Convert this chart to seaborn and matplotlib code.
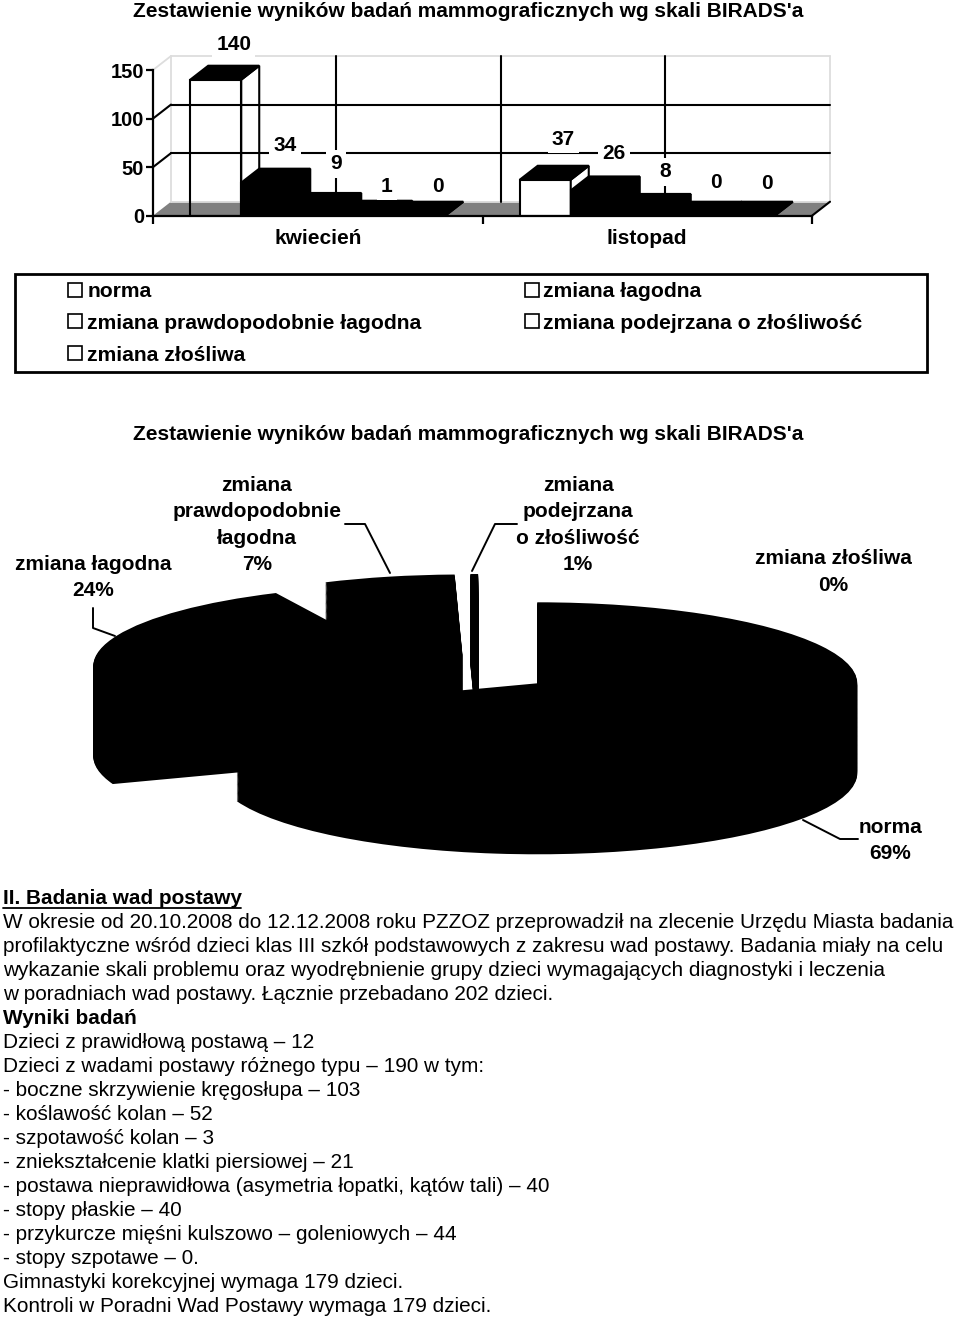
import matplotlib
matplotlib.use('Agg')
import matplotlib.pyplot as plt
from matplotlib.lines import Line2D
from matplotlib.patches import Polygon, Rectangle
import pandas as pd
import seaborn as sns

# values
months = ['kwiecień', 'listopad']
categories = ['norma', 'zmiana łagodna', 'zmiana prawdopodobnie łagodna',
              'zmiana podejrzana o złośliwość', 'zmiana złośliwa']
april = [140, 34, 9, 1, 0]
november = [37, 26, 8, 0, 0]
y_ticks = [0, 50, 100, 150]

pie_labels = ['norma\n69%', 'zmiana łagodna\n24%', 'zmiana\nprawdopodobnie\nłagodna\n7%',
              'zmiana\npodejrzana\no złośliwość\n1%', 'zmiana złośliwa\n0%']

chart_title = "Zestawienie wyników badań mammograficznych wg skali BIRADS'a"

body_lines = [
    ('II. Badania wad postawy', 'bold'),
    ('W okresie od 20.10.2008 do 12.12.2008 roku PZZOZ przeprowadził na zlecenie Urzędu Miasta badania', 'normal'),
    ('profilaktyczne wśród dzieci klas III szkół podstawowych z zakresu wad postawy. Badania miały na celu', 'normal'),
    ('wykazanie skali problemu oraz wyodrębnienie grupy dzieci wymagających diagnostyki i leczenia', 'normal'),
    ('w poradniach wad postawy. Łącznie przebadano 202 dzieci.', 'normal'),
    ('Wyniki badań', 'bold'),
    ('Dzieci z prawidłową postawą – 12', 'normal'),
    ('Dzieci z wadami postawy różnego typu – 190 w tym:', 'normal'),
    ('- boczne skrzywienie kręgosłupa – 103', 'normal'),
    ('- koślawość kolan – 52', 'normal'),
    ('- szpotawość kolan – 3', 'normal'),
    ('- zniekształcenie klatki piersiowej – 21', 'normal'),
    ('- postawa nieprawidłowa (asymetria łopatki, kątów tali) – 40', 'normal'),
    ('- stopy płaskie – 40', 'normal'),
    ('- przykurcze mięśni kulszowo – goleniowych – 44', 'normal'),
    ('- stopy szpotawe – 0.', 'normal'),
    ('Gimnastyki korekcyjnej wymaga 179 dzieci.', 'normal'),
    ('Kontroli w Poradni Wad Postawy wymaga 179 dzieci.', 'normal'),
]

W, H = 960, 1320
CHART_SIZE = 15
BODY_SIZE = 14.98
LABEL_LIFT = [21, 23, 29, 14, 15, 26, 23, 22, 19, 18]  # px above the back edge of each bar


def px_rect(left, top, right, bottom):
    return [left / W, 1 - bottom / H, (right - left) / W, (bottom - top) / H]


sns.set_theme(style='white')
plt.rcParams['font.family'] = ['Liberation Sans', 'DejaVu Sans']
plt.rcParams['axes.edgecolor'] = 'black'
plt.rcParams['text.color'] = 'black'
plt.rcParams['xtick.color'] = 'black'
plt.rcParams['ytick.color'] = 'black'

fig = plt.figure(figsize=(9.6, 13.2), dpi=100, facecolor='white')

# ---------- 3D looking bar chart ----------
ax = fig.add_axes(px_rect(153, 70, 812, 215.7))
df = pd.DataFrame({
    'month': [m for m in months for _ in categories],
    'category': categories * 2,
    'value': april + november,
})
sns.barplot(data=df, x='month', y='value', hue='category', order=months, hue_order=categories,
            palette=['white', 'black', 'black', 'black', 'black'], width=0.774, gap=0,
            legend=False, edgecolor='black', linewidth=1.5, ax=ax)
bars = sorted(ax.patches, key=lambda p: p.get_x())

ax.set_xlim(-0.5, 1.5)
ax.set_ylim(0, 150)
ax.set_xlabel('')
ax.set_ylabel('')
ax.patch.set_visible(False)
for side in ['top', 'right']:
    ax.spines[side].set_visible(False)
for side in ['left', 'bottom']:
    ax.spines[side].set_linewidth(1.6)
    ax.spines[side].set_zorder(20)

DX = 18 / 329.5
DY = 14.4
x0, x1 = ax.get_xlim()

ax.set_yticks(y_ticks)
ax.tick_params(axis='y', length=5, width=1.6, pad=1.5, labelsize=14.5, left=True)
ax.set_xticks([-0.5, 0.5, 1.5], ['', '', ''])
ax.set_xticks([0, 1], months, minor=True)
ax.tick_params(axis='x', which='major', length=6, width=1.6, bottom=True)
ax.tick_params(axis='x', which='minor', length=0, pad=9.5, labelsize=CHART_SIZE)
for lab in ax.get_yticklabels() + ax.get_xticklabels(minor=True):
    lab.set_fontweight('bold')

# floor and walls behind the bars
ax.add_patch(Polygon([(x0, 0), (x0 + DX, DY), (x1 + DX, DY), (x1, 0)], closed=True,
                     facecolor='#808080', edgecolor='none', clip_on=False, zorder=0.5))
wall = dict(color='#dddddd', lw=1.3, clip_on=False, zorder=0.6)
ax.plot([x0 + DX, x0 + DX], [DY, 150 + DY], **wall)
ax.plot([x1 + DX, x1 + DX], [DY, 150 + DY], **wall)
ax.plot([x0 + DX, x1 + DX], [150 + DY, 150 + DY], **wall)
ax.plot([x0 + DX, x1 + DX], [DY, DY], **wall)
ax.plot([x0, x0 + DX], [150, 150 + DY], **wall)
grid = dict(color='black', lw=1.5, clip_on=False, zorder=0.7)
for v in y_ticks[1:-1]:
    ax.plot([x0 + DX, x1 + DX], [v + DY, v + DY], **grid)
    ax.plot([x0, x0 + DX], [v, v + DY], **grid)
for v in [0, 0.5, 1]:
    ax.plot([v + DX, v + DX], [DY, 150 + DY], **grid)
ax.plot([x1, x1 + DX], [0, DY], **grid)

# bars with their side and top faces, left to right so they overlap as in the picture
for i, bar in enumerate(bars):
    left, w, h = bar.get_x(), bar.get_width(), bar.get_height()
    is_white = bar.get_facecolor()[0] > 0.5
    see_through = is_white and i == 0
    face = 'none' if see_through else ('white' if is_white else 'black')
    bar.set_facecolor(face)
    bar.set_zorder(2 + i)
    ax.add_patch(Polygon([(left + w, 0), (left + w + DX, DY), (left + w + DX, h + DY), (left + w, h)],
                         closed=True, facecolor=face, edgecolor='black', lw=1.5,
                         clip_on=False, zorder=2 + i))
    ax.add_patch(Polygon([(left, h), (left + DX, h + DY), (left + w + DX, h + DY), (left + w, h)],
                         closed=True, facecolor='black', edgecolor='black', lw=1.5,
                         clip_on=False, zorder=2 + i))
    ax.annotate(f'{h:.0f}', xy=(left + w / 2 + DX, h + DY), xytext=(0, LABEL_LIFT[i] * 0.72),
                textcoords='offset points', ha='center', va='center', fontsize=15,
                fontweight='bold', color='black', annotation_clip=False, zorder=30,
                bbox=dict(facecolor='white', edgecolor='none', pad=3))

# ---------- exploded pie with depth, stacked copies of the same pie ----------
pie_ax = fig.add_axes(px_rect(63, 559.6, 895, 883.6))
pie_values = [a + b for a, b in zip(april, november)]
depth_levels = 100
depth = 90 / 81
for k in range(depth_levels + 1):
    pie_ax.pie(pie_values, explode=[0.222] * len(pie_values), startangle=90, counterclock=False,
               colors=['black'] * len(pie_values), center=(0, -depth * k / depth_levels),
               wedgeprops=dict(linewidth=0))
pie_ax.set_aspect('auto')
pie_ax.set_xlim(-1.3, 1.3)
pie_ax.set_ylim(-2.6, 1.4)

# ---------- everything placed on the page ----------
page = fig.add_axes([0, 0, 1, 1], zorder=50)
page.set_xlim(0, W)
page.set_ylim(H, 0)
page.axis('off')

chart_text = dict(ha='center', va='center', fontsize=CHART_SIZE, fontweight='bold', color='black')
page.text(468, 11.5, chart_title, **chart_text)
page.text(468, 434.5, chart_title, **chart_text)

pie_positions = [(890, 840.5), (93, 577.5), (257, 525), (578, 525), (833, 572)]
for label, (px, py) in zip(pie_labels, pie_positions):
    page.text(px, py, label, linespacing=1.5, **chart_text)

leader = dict(color='black', lw=1.4)
page.plot([93, 93, 115], [608, 628, 636], **leader)
page.plot([345, 365, 390], [524, 524, 573], **leader)
page.plot([517, 495, 472], [524, 524, 571], **leader)
page.plot([803, 840, 858], [820, 839, 839], **leader)

# legend box
page.add_patch(Rectangle((14.5, 273.5), 912, 98, facecolor='none', edgecolor='black', lw=2))
legend_order = [0, 2, 4, 1, 3]
handles = [Line2D([], [], linestyle='none', marker='s', markersize=9.5, markerfacecolor='white',
                  markeredgecolor='black', markeredgewidth=1.2) for _ in legend_order]
fig.legend(handles, [categories[i] for i in legend_order], ncols=2, frameon=False,
           loc='upper left', bbox_to_anchor=(0.0675, 1 - 282 / H), borderpad=0, borderaxespad=0,
           handlelength=1, handletextpad=0.06, columnspacing=4.72, labelspacing=0.61,
           prop=dict(family='Liberation Sans', weight='bold', size=15.2))

# text below the charts
for i, (line, weight) in enumerate(body_lines):
    page.text(3, 899 + 24 * i, line, ha='left', va='center', fontsize=BODY_SIZE,
              fontweight=weight, color='black')
page.plot([3, 241], [907.5, 907.5], color='black', lw=1.3)

fig.savefig('out.png', dpi=100)
